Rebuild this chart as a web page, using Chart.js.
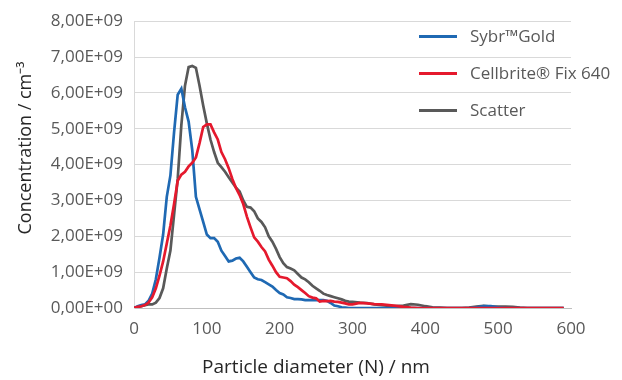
<!DOCTYPE html>
<html><head><meta charset="utf-8">
<script src="https://cdn.jsdelivr.net/npm/chart.js@4"></script>
<style>
html,body{margin:0;padding:0;background:#fff;}
#wrap{position:relative;width:622px;height:380px;}
#legend{position:absolute;left:419px;top:0;font-family:'Open Sans',sans-serif;font-size:17px;color:#595959;}
.item{position:absolute;left:0;white-space:nowrap;}
.swatch{position:absolute;left:0;width:38px;height:3px;}
.lbl{position:absolute;left:51px;line-height:20px;}
</style></head>
<body><div id="wrap"><canvas id="c" width="622" height="380"></canvas><div id="legend"></div></div>
<script>
// Particle diameter (nm)
const diameters = [0,5,10,15,20,25,30,35,40,45,50,55,60,65,70,75,80,85,90,95,100,105,110,115,120,125,130,135,140,145,150,155,160,165,170,175,180,185,190,195,200,205,210,215,220,225,230,235,240,245,250,255,260,265,270,275,280,285,290,295,300,
310,320,330,340,350,360,370,380,390,400,410,420,430,440,450,460,470,480,490,500,510,520,530,540,550,560,570,580,590];
// Concentrations in units of 1e9 / cm^3
const sybrGold = [0,0.05,0.08,0.1,0.2,0.4,0.8,1.4,2.05,3.1,3.7,4.9,5.95,6.12,5.6,5.2,4.4,3.1,2.75,2.4,2.05,1.95,1.95,1.85,1.6,1.45,1.3,1.32,1.38,1.4,1.3,1.15,1.0,0.85,0.8,0.78,0.72,0.66,0.6,0.5,0.42,0.38,0.3,0.28,0.25,0.25,0.24,0.22,0.22,0.22,0.22,0.22,0.22,0.2,0.14,0.07,0.05,0.02,0.01,0,0,
0,0,0,0,0,0,0,0,0,0,0,0,0,0,0,0,0.02,0.05,0.05,0.02,0,0,0,0,0,0,0,0,0];
const cellbrite = [0,0.03,0.05,0.08,0.15,0.3,0.55,0.9,1.3,1.8,2.3,2.9,3.55,3.72,3.8,3.95,4.05,4.2,4.6,5.05,5.12,5.12,4.9,4.7,4.35,4.15,3.9,3.6,3.35,3.15,2.9,2.55,2.25,1.97,1.85,1.7,1.58,1.35,1.18,1.0,0.87,0.85,0.83,0.75,0.65,0.58,0.5,0.42,0.33,0.29,0.27,0.18,0.2,0.19,0.2,0.18,0.17,0.15,0.13,0.1,0.1,
0.14,0.13,0.11,0.1,0.08,0.06,0.03,0.01,0,0,0,0,0,0,0,0,0,0,0,0,0,0,0,0,0,0,0,0,0];
const scatter = [0,0.02,0.05,0.08,0.1,0.1,0.15,0.28,0.55,1.1,1.6,2.6,3.6,5.1,6.2,6.72,6.75,6.7,6.2,5.65,5.15,4.7,4.35,4.05,3.93,3.8,3.65,3.5,3.36,3.25,3.0,2.82,2.8,2.7,2.5,2.4,2.25,2.0,1.85,1.65,1.42,1.25,1.14,1.1,1.05,0.95,0.85,0.8,0.72,0.62,0.55,0.48,0.4,0.36,0.33,0.3,0.27,0.24,0.2,0.18,0.17,
0.15,0.14,0.1,0.08,0.06,0.05,0.07,0.11,0.09,0.05,0.02,0.01,0,0,0,0.01,0.04,0.06,0.04,0.04,0.04,0.03,0.01,0,0,0,0,0,0];
const seriesNames = ['Sybr\u2122Gold','Cellbrite\u00AE Fix 640','Scatter'];
const seriesColors = ['#1f69b3','#e5192d','#595959'];
const yTicks = [0,1e9,2e9,3e9,4e9,5e9,6e9,7e9,8e9];
const xTicks = [0,100,200,300,400,500,600];
const UNIT = 1e9;

const seriesValues = [sybrGold, cellbrite, scatter];
const drawOrder = [1, 0, 2];

function fmtExp(v){
  if (v === 0) return '0,00E+00';
  const e = Math.floor(Math.log10(v) + 1e-9);
  const m = v / Math.pow(10, e);
  return m.toFixed(2).replace('.', ',') + 'E+' + String(e).padStart(2,'0');
}

const datasets = seriesValues.map((vals, i) => ({
  label: seriesNames[i],
  data: diameters.map((d, k) => ({x: d, y: vals[k] * UNIT})),
  borderColor: seriesColors[i],
  backgroundColor: seriesColors[i],
  borderWidth: 2.7,
  pointRadius: 0,
  tension: 0,
  fill: false,
  order: drawOrder[i]
}));

const titlesPlugin = {
  id: 'titles',
  afterDraw(chart){
    const ctx = chart.ctx;
    ctx.save();
    ctx.fillStyle = '#262626';
    ctx.font = '19px "Open Sans"';
    ctx.textAlign = 'center';
    ctx.textBaseline = 'middle';
    ctx.fillText('Particle diameter (N) / nm', 316, 368);
    ctx.translate(26, 148);
    ctx.rotate(-Math.PI/2);
    ctx.font = '18px "Open Sans"';
    ctx.fillText('Concentration / cm\u207B\u00B3', 0, 0);
    ctx.restore();
  }
};

new Chart(document.getElementById('c'), {
  type: 'line',
  data: { datasets },
  plugins: [titlesPlugin],
  options: {
    responsive: false,
    animation: false,
    devicePixelRatio: 1,
    layout: { padding: { top: 19, right: 51, left: 0, bottom: 0 } },
    plugins: { legend: { display: false }, tooltip: { enabled: false } },
    scales: {
      x: {
        type: 'linear', min: 0, max: 600,
        afterFit(s){ s.height = 72; },
        afterBuildTicks(s){ s.ticks = xTicks.map(v => ({value: v})); },
        ticks: { font: { family: 'Open Sans', size: 17 }, color: '#595959', padding: 11, maxRotation: 0 },
        grid: { display: false, drawTicks: false },
        border: { display: true, color: '#bfbfbf', width: 1 }
      },
      y: {
        min: 0, max: 8e9,
        afterFit(s){ s.width = 134; },
        afterBuildTicks(s){ s.ticks = yTicks.map(v => ({value: v})); },
        ticks: { font: { family: 'Open Sans', size: 17 }, color: '#595959', padding: 11, callback: v => fmtExp(v) },
        grid: { color: '#d9d9d9', lineWidth: 1, drawTicks: false },
        border: { display: true, color: '#d9d9d9', width: 1 }
      }
    }
  }
});

const legend = document.getElementById('legend');
const rowY = [36, 73, 110];
seriesNames.forEach((name, i) => {
  const item = document.createElement('div');
  item.className = 'item';
  item.style.top = (rowY[i] - 10) + 'px';
  const sw = document.createElement('div');
  sw.className = 'swatch';
  sw.style.background = seriesColors[i];
  sw.style.top = '9px';
  const lb = document.createElement('div');
  lb.className = 'lbl';
  lb.textContent = name;
  item.appendChild(sw); item.appendChild(lb);
  legend.appendChild(item);
});
</script>
</body></html>
